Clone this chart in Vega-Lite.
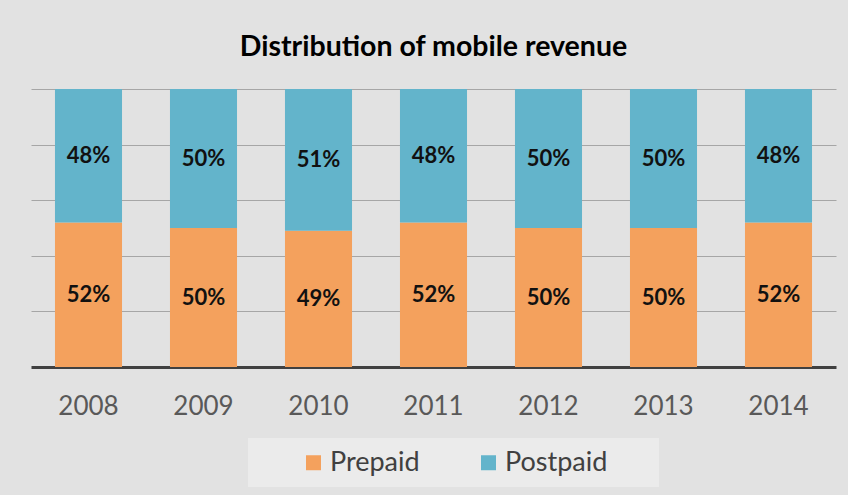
{
  "$schema": "https://vega.github.io/schema/vega-lite/v6.json",
  "width": 805,
  "height": 278,
  "autosize": {"type": "none"},
  "padding": {"left": 31, "top": 89, "right": 12, "bottom": 128},
  "background": "#e2e2e2",
  "view": {"stroke": null},
  "title": {"text": "Distribution of mobile revenue", "font": "Lato", "fontSize": 28.5, "fontWeight": "bold", "color": "#000000", "offset": 28, "anchor": "middle"},
  "data": {"values": [
    {"year": "2008", "type": "Prepaid", "pct": 0.52},
    {"year": "2008", "type": "Postpaid", "pct": 0.48},
    {"year": "2009", "type": "Prepaid", "pct": 0.50},
    {"year": "2009", "type": "Postpaid", "pct": 0.50},
    {"year": "2010", "type": "Prepaid", "pct": 0.49},
    {"year": "2010", "type": "Postpaid", "pct": 0.51},
    {"year": "2011", "type": "Prepaid", "pct": 0.52},
    {"year": "2011", "type": "Postpaid", "pct": 0.48},
    {"year": "2012", "type": "Prepaid", "pct": 0.50},
    {"year": "2012", "type": "Postpaid", "pct": 0.50},
    {"year": "2013", "type": "Prepaid", "pct": 0.50},
    {"year": "2013", "type": "Postpaid", "pct": 0.50},
    {"year": "2014", "type": "Prepaid", "pct": 0.52},
    {"year": "2014", "type": "Postpaid", "pct": 0.48}
  ]},
  "transform": [
    {"stack": "pct", "groupby": ["year"], "sort": [{"field": "type", "order": "descending"}], "offset": "normalize", "as": ["y0", "y1"]},
    {"calculate": "(datum.y0 + datum.y1) / 2", "as": "ymid"}
  ],
  "encoding": {
    "x": {
      "field": "year", "type": "ordinal",
      "scale": {"paddingInner": 0.417, "paddingOuter": 0.2085},
      "axis": {"title": null, "labelAngle": 0, "ticks": false, "labelFont": "Lato", "labelFontSize": 26, "labelColor": "#595959", "labelPadding": 26, "domainColor": "#404040", "domainWidth": 3, "grid": false}
    }
  },
  "layer": [
    {
      "mark": {"type": "bar"},
      "encoding": {
        "y": {"field": "y0", "type": "quantitative", "scale": {"domain": [0, 1]}, "axis": {"title": null, "labels": false, "ticks": false, "domain": false, "grid": true, "values": [0.2, 0.4, 0.6, 0.8, 1], "gridColor": "#a6a6a6", "gridWidth": 1.2}},
        "y2": {"field": "y1"},
        "color": {
          "field": "type", "type": "nominal",
          "scale": {"domain": ["Prepaid", "Postpaid"], "range": ["#F4A15D", "#63B4CB"]},
          "legend": {"title": null, "orient": "none", "legendX": 217, "legendY": 349, "direction": "horizontal", "fillColor": "#ebebeb", "padding": 11, "symbolType": "square", "symbolSize": 225, "symbolStrokeWidth": 0, "symbolOffset": 41, "labelFont": "Lato", "labelFontSize": 27, "labelColor": "#404040", "labelOffset": 3, "columnPadding": 14, "labelLimit": 400, "labelExpr": "datum.label == 'Postpaid' ? datum.label + '\u2800\u2800' : datum.label"}
        }
      }
    },
    {
      "mark": {"type": "text", "font": "Lato", "fontWeight": "bold", "fontSize": 22, "color": "#111111"},
      "encoding": {
        "y": {"field": "ymid", "type": "quantitative"},
        "text": {"field": "pct", "type": "quantitative", "format": ".0%"}
      }
    }
  ]
}
